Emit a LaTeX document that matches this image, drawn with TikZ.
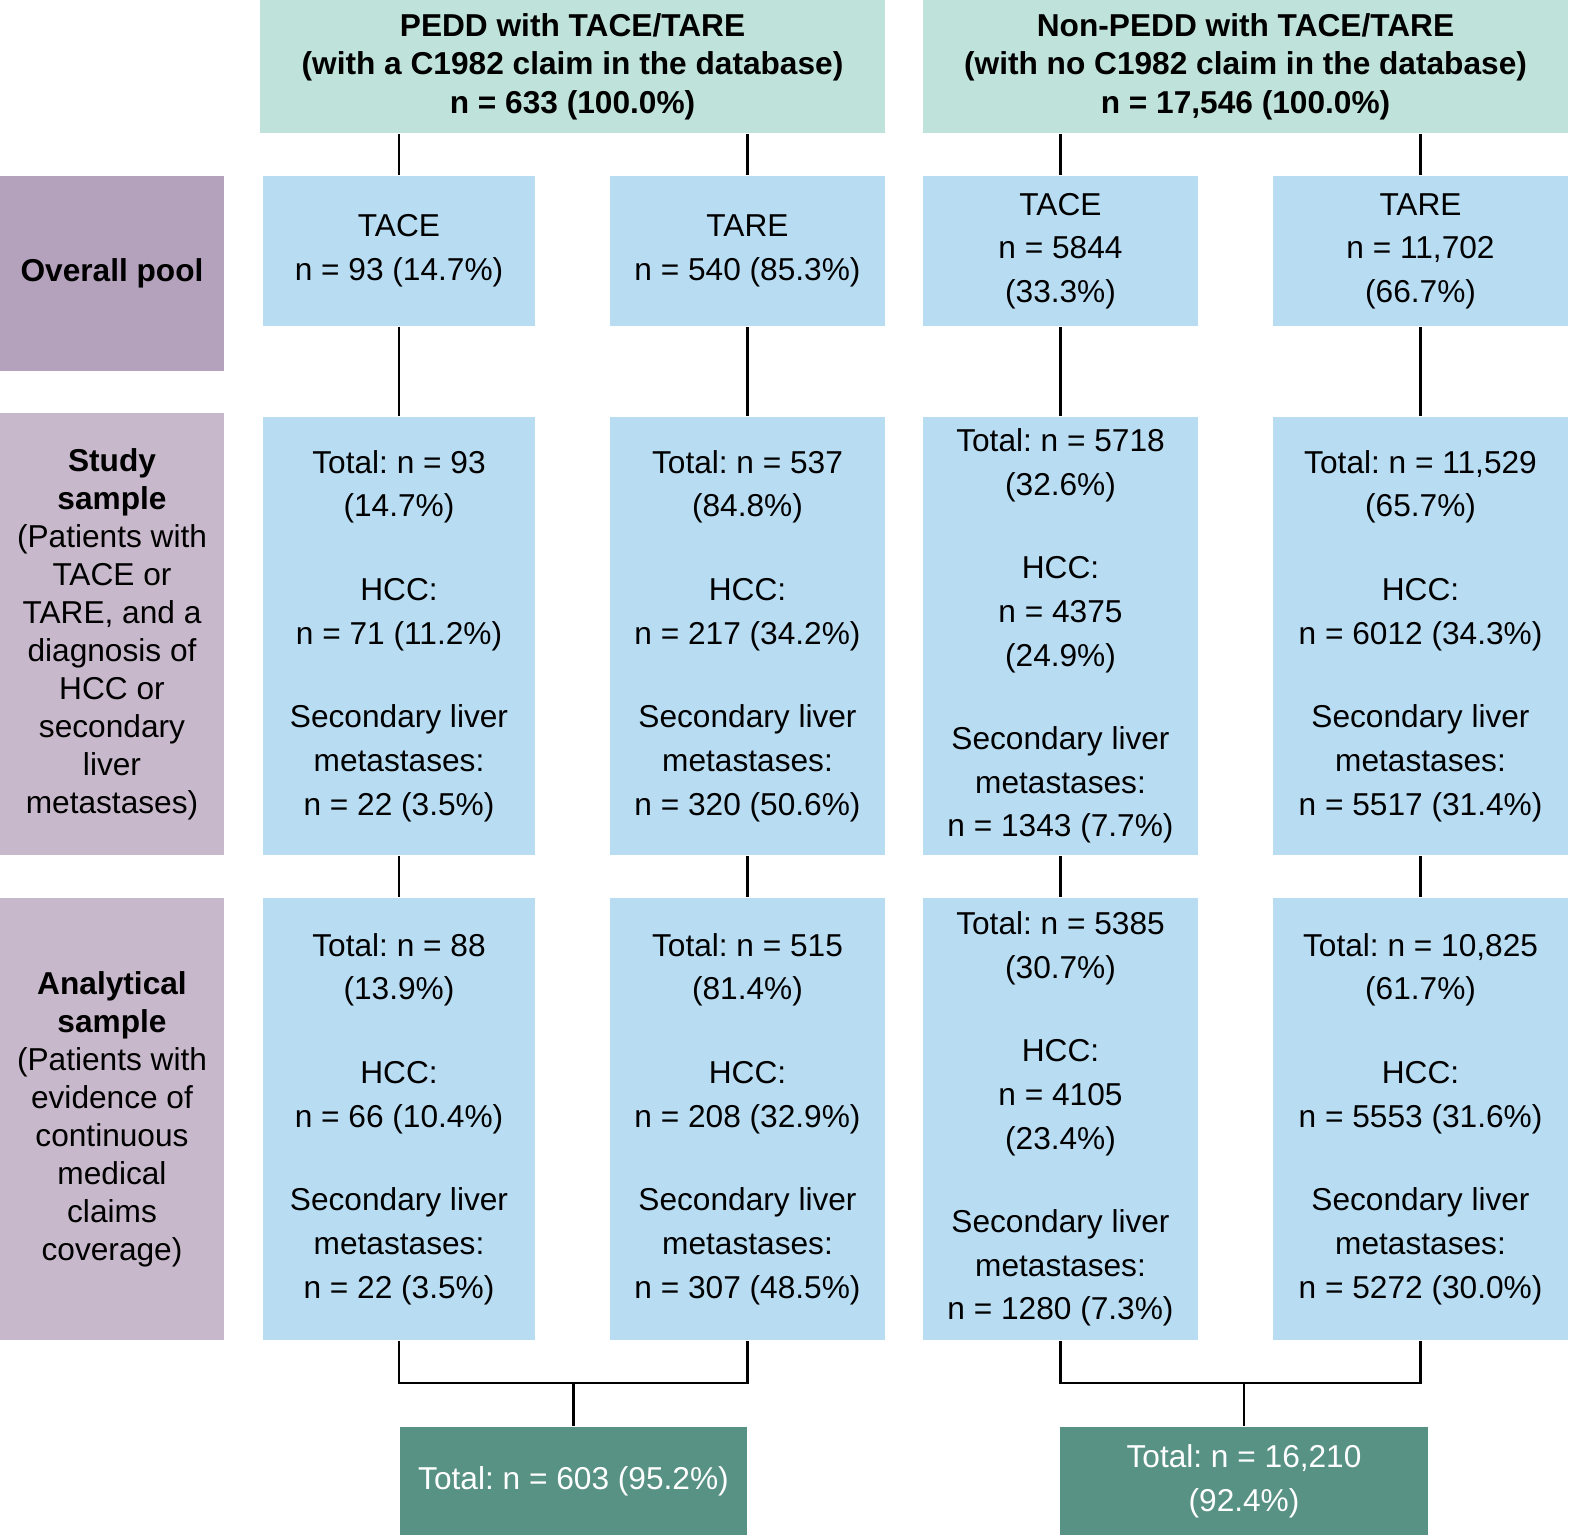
\documentclass[tikz,border=0pt]{standalone}
\usepackage{fontspec}
\setmainfont{Liberation Sans}
\frenchspacing
\colorlet{hdr}{rgb,255:red,191;green,227;blue,218}
\colorlet{pool}{rgb,255:red,180;green,162;blue,189}
\colorlet{smp}{rgb,255:red,200;green,184;blue,203}
\colorlet{arm}{rgb,255:red,184;green,220;blue,242}
\colorlet{tot}{rgb,255:red,88;green,146;blue,132}
\newcommand{\gp}{\\[0.40cm]}

\begin{document}
\begin{tikzpicture}[
        x=0.01cm,y=-0.01cm,
        every node/.append style={font=\fontsize{9}{12.4}\selectfont,align=center,inner sep=0pt},
        hbox/.style={fill=hdr,font=\fontsize{9}{11}\selectfont\bfseries,minimum height=1.33cm},
        lbox/.style={fill=#1,minimum width=2.24cm,font=\fontsize{9}{10.8}\selectfont},
        abox/.style={fill=arm,minimum width=#1},
        tbox/.style={fill=tot,text=white,minimum width=#1,minimum height=1.08cm},
        link/.style={draw=black,line width=0.6pt}
    ]
    \useasboundingbox (0,0) rectangle (1580,1535);
    % headers
    \node[hbox,minimum width=6.25cm] (hp) at (572.5,66.5)
        {PEDD with TACE/TARE\\(with a C1982 claim in the database)\\n = 633 (100.0\%)};
    \node[hbox,minimum width=6.45cm] (hn) at (1245.5,66.5)
        {Non-PEDD with TACE/TARE\\(with no C1982 claim in the database)\\n = 17,546 (100.0\%)};
    % row labels
    \node[lbox=pool,minimum height=1.95cm] (lpool) at (112,273.5) {\textbf{Overall pool}};
    \node[lbox=smp,minimum height=4.42cm] (lstudy) at (112,634)
        {\textbf{Study}\\\textbf{sample}\\(Patients with\\TACE or\\TARE, and a\\diagnosis of\\HCC or\\secondary\\liver\\metastases)};
    \node[lbox=smp,minimum height=4.42cm] (lana) at (112,1119)
        {\textbf{Analytical}\\\textbf{sample}\\(Patients with\\evidence of\\continuous\\medical\\claims\\coverage)};
    % overall pool
    \node[abox=2.72cm,minimum height=1.5cm] (p1) at (399,251) {TACE\\n = 93 (14.7\%)};
    \node[abox=2.75cm,minimum height=1.5cm] (p2) at (747.5,251) {TARE\\n = 540 (85.3\%)};
    \node[abox=2.75cm,minimum height=1.5cm] (p3) at (1060.5,251) {TACE\\n = 5844\\(33.3\%)};
    \node[abox=2.95cm,minimum height=1.5cm] (p4) at (1420.5,251) {TARE\\n = 11,702\\(66.7\%)};
    % study sample
    \node[abox=2.72cm,minimum height=4.38cm] (s1) at (399,636)
        {Total: n = 93\\(14.7\%)\gp HCC:\\n = 71 (11.2\%)\gp Secondary liver\\metastases:\\n = 22 (3.5\%)};
    \node[abox=2.75cm,minimum height=4.38cm] (s2) at (747.5,636)
        {Total: n = 537\\(84.8\%)\gp HCC:\\n = 217 (34.2\%)\gp Secondary liver\\metastases:\\n = 320 (50.6\%)};
    \node[abox=2.75cm,minimum height=4.38cm] (s3) at (1060.5,636)
        {Total: n = 5718\\(32.6\%)\gp HCC:\\n = 4375\\(24.9\%)\gp Secondary liver\\metastases:\\n = 1343 (7.7\%)};
    \node[abox=2.95cm,minimum height=4.38cm] (s4) at (1420.5,636)
        {Total: n = 11,529\\(65.7\%)\gp HCC:\\n = 6012 (34.3\%)\gp Secondary liver\\metastases:\\n = 5517 (31.4\%)};
    % analytical sample
    \node[abox=2.72cm,minimum height=4.42cm] (a1) at (399,1119)
        {Total: n = 88\\(13.9\%)\gp HCC:\\n = 66 (10.4\%)\gp Secondary liver\\metastases:\\n = 22 (3.5\%)};
    \node[abox=2.75cm,minimum height=4.42cm] (a2) at (747.5,1119)
        {Total: n = 515\\(81.4\%)\gp HCC:\\n = 208 (32.9\%)\gp Secondary liver\\metastases:\\n = 307 (48.5\%)};
    \node[abox=2.75cm,minimum height=4.42cm] (a3) at (1060.5,1119)
        {Total: n = 5385\\(30.7\%)\gp HCC:\\n = 4105\\(23.4\%)\gp Secondary liver\\metastases:\\n = 1280 (7.3\%)};
    \node[abox=2.95cm,minimum height=4.42cm] (a4) at (1420.5,1119)
        {Total: n = 10,825\\(61.7\%)\gp HCC:\\n = 5553 (31.6\%)\gp Secondary liver\\metastases:\\n = 5272 (30.0\%)};
    % totals
    \node[tbox=3.47cm] (tp) at (573.5,1481) {Total: n = 603 (95.2\%)};
    \node[tbox=3.68cm] (tn) at (1244,1481) {Total: n = 16,210\\(92.4\%)};
    % links
    \foreach \h/\c in {hp/1,hp/2,hn/3,hn/4}
        \draw[link] (\h.south -| p\c) -- (p\c.north);
    \foreach \c in {1,...,4} {
        \draw[link] (p\c) -- (s\c.north);
        \draw[link] (s\c) -- (a\c.north);
    }
    \coordinate (jp) at (573.5,1383);
    \coordinate (jn) at (1244,1383);
    \draw[link] (a1.south) |- (jp) -| (a2.south);
    \draw[link] (jp) -- (tp.north);
    \draw[link] (a3.south) |- (jn) -| (a4.south);
    \draw[link] (jn) -- (tn.north);
\end{tikzpicture}
\end{document}
